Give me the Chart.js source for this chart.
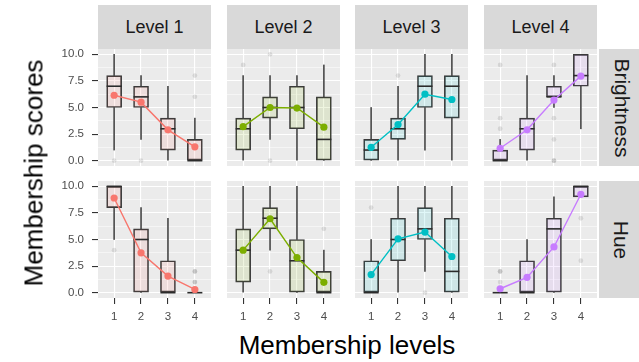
<!DOCTYPE html>
<html>
<head>
<meta charset="utf-8">
<script src="https://cdn.jsdelivr.net/npm/chart.js@4"></script>
<style>
  html, body { margin: 0; padding: 0; background: #ffffff; }
  #fig { position: relative; width: 639px; height: 362px; overflow: hidden;
         font-family: "Liberation Sans", Arial, sans-serif; }
  #fig canvas { position: absolute; }
  .strip { position: absolute; background: #d9d9d9; color: #1a1a1a; font-size: 18px;
           display: flex; align-items: center; justify-content: center; }
  .strip span { white-space: nowrap; }
  .strip.side { font-size: 21px; }
  .strip.side span { transform: rotate(90deg); }
  .title { position: absolute; color: #000; font-size: 26px; white-space: nowrap; }
</style>
</head>
<body>
<div id="fig"></div>
<script>
// Facets and axes
const levelNames = ['Level 1', 'Level 2', 'Level 3', 'Level 4'];
const attributeNames = ['Brightness', 'Hue'];
const membershipLevels = [1, 2, 3, 4];
const yTickValues = [0, 2.5, 5, 7.5, 10];
const yMinorValues = [1.25, 3.75, 6.25, 8.75];

// Box statistics, indexed [level][membership level]
const brightnessMin    = [[1, 2, 0, 0], [0, 2, 0, 0], [0, 0, 1, 0], [0, 0, 5, 3]];
const brightnessQ1     = [[5, 5, 1, 0], [1, 4, 3, 0], [0, 2, 5, 4], [0, 1, 6, 7]];
const brightnessMedian = [[7, 6, 3, 0], [3, 5, 5, 2], [1, 3, 7, 7], [0, 3, 6, 8]];
const brightnessQ3     = [[8, 7, 4, 2], [4, 6, 7, 6], [2, 4, 8, 8], [1, 4, 7, 10]];
const brightnessMax    = [[10, 8, 7, 4], [8, 8, 8, 9], [5, 7, 10, 10], [2, 8, 8, 10]];
const brightnessMean   = [[6.15, 5.5, 2.9, 1.3], [3.2, 5.0, 4.95, 3.15], [1.26, 3.4, 6.25, 5.75], [1.17, 2.9, 5.7, 7.95]];
const brightnessOutliers = [[[0], [0], [], [6, 8]], [[9], [0, 10], [], []], [[], [8], [], []], [[3, 4, 9], [], [0, 0, 2, 4, 9], []]];

const hueMin    = [[5, 0, 0, 0], [0, 4, 0, 0], [0, 0, 2, 0], [0, 0, 0, 9]];
const hueQ1     = [[8, 0, 0, 0], [1, 6, 0, 0], [0, 3, 5, 0], [0, 0, 0, 9]];
const hueMedian = [[10, 5, 0, 0], [4, 7, 3, 0], [0, 5, 6, 2], [0, 0, 6, 10]];
const hueQ3     = [[10, 6, 3, 0], [6, 8, 5, 2], [3, 7, 8, 7], [0, 3, 7, 10]];
const hueMax    = [[10, 8, 7, 0], [10, 10, 10, 4], [5, 10, 10, 10], [0, 5, 9, 10]];
const hueMean   = [[8.9, 3.75, 1.56, 0.3], [4.0, 6.95, 3.3, 0.97], [1.7, 5.06, 5.7, 3.4], [0.37, 1.44, 4.3, 9.25]];
const hueOutliers = [[[4], [], [], [1, 1, 2, 2]], [[], [2], [], [6]], [[8], [], [0], []], [[1, 2, 2], [], [], [3, 7]]];

// Styling
const levelColours = ['#F8766D', '#7CAE00', '#00BFC4', '#C77CFF'];
const PANEL_X = [98, 227, 355, 484], PANEL_W = 113;
const PANEL_Y = [49, 181], PANEL_H = 117;
const Y_AXIS_W = 50, X_AXIS_H = 30;
const FONT = '"Liberation Sans", Arial, sans-serif';

const stats = [
  { min: brightnessMin, q1: brightnessQ1, med: brightnessMedian, q3: brightnessQ3, max: brightnessMax, mean: brightnessMean, out: brightnessOutliers },
  { min: hueMin, q1: hueQ1, med: hueMedian, q3: hueQ3, max: hueMax, mean: hueMean, out: hueOutliers }
];

function tint(hex, a) {
  const n = parseInt(hex.slice(1), 16);
  return `rgba(${n >> 16},${(n >> 8) & 255},${n & 255},${a})`;
}

const panelBackground = {
  id: 'panelBackground',
  beforeDraw(chart) {
    const { ctx, chartArea: a } = chart;
    ctx.save();
    ctx.fillStyle = '#ebebeb';
    ctx.fillRect(a.left, a.top, a.right - a.left, a.bottom - a.top);
    ctx.restore();
  }
};

const fig = document.getElementById('fig');

function addText(cls, text, x, y, w, h) {
  const d = document.createElement('div');
  d.className = cls;
  d.style.left = x + 'px'; d.style.top = y + 'px';
  d.style.width = w + 'px'; d.style.height = h + 'px';
  const s = document.createElement('span');
  s.textContent = text;
  d.appendChild(s);
  fig.appendChild(d);
}

function addTitle(text, cx, cy, rot) {
  const d = document.createElement('div');
  d.className = 'title';
  d.textContent = text;
  d.style.left = cx + 'px'; d.style.top = cy + 'px';
  d.style.transform = `translate(-50%, -50%) rotate(${rot}deg)`;
  fig.appendChild(d);
}

// Tick labels stay inside the expanded range, so the scales need no extra margin.
function noScalePadding(sc) {
  sc.paddingTop = 0; sc.paddingBottom = 0; sc.paddingLeft = 0; sc.paddingRight = 0;
}

function buildPanel(row, col) {
  const s = stats[row];
  const colour = levelColours[col];
  const showY = col === 0, showX = row === 1;
  const yw = showY ? Y_AXIS_W : 0, xh = showX ? X_AXIS_H : 0;

  const canvas = document.createElement('canvas');
  canvas.width = PANEL_W + yw;
  canvas.height = PANEL_H + xh;
  canvas.style.left = (PANEL_X[col] - yw) + 'px';
  canvas.style.top = PANEL_Y[row] + 'px';
  fig.appendChild(canvas);

  const pts = (arr) => membershipLevels.map((x, i) => ({ x, y: arr[col][i] }));
  const range = (lo, hi) => membershipLevels.map((x, i) => ({ x, y: [lo[col][i], hi[col][i]] }));
  const outliers = [];
  membershipLevels.forEach((x, i) => s.out[col][i].forEach(v => outliers.push({ x, y: v })));

  const whisker = { type: 'bar', grouped: false, barThickness: 1.1, backgroundColor: '#555555',
                    borderWidth: 0, order: 6 };

  new Chart(canvas, {
    type: 'bar',
    data: {
      datasets: [
        { ...whisker, data: range(s.min, s.q1) },
        { ...whisker, data: range(s.q3, s.max) },
        { type: 'bar', grouped: false, barThickness: 15, data: range(s.q1, s.q3),
          backgroundColor: tint(colour, 0.12), borderColor: '#3a3a3a', borderWidth: 1,
          borderSkipped: false, order: 5 },
        { type: 'scatter', data: outliers, pointRadius: 2.4, pointBorderWidth: 0,
          backgroundColor: 'rgba(0,0,0,0.1)', order: 4 },
        { type: 'scatter', data: pts(s.med), pointStyle: 'line', pointRadius: 7.5,
          borderColor: '#2b2b2b', pointBorderWidth: 1.6, order: 3 },
        { type: 'line', data: pts(s.mean), borderColor: colour, backgroundColor: colour,
          borderWidth: 1.4, pointRadius: 3.6, pointBorderWidth: 0, order: 1 }
      ]
    },
    options: {
      responsive: false,
      animation: false,
      events: [],
      layout: { padding: 0, autoPadding: false },
      plugins: { legend: { display: false }, tooltip: { enabled: false } },
      scales: {
        x: {
          type: 'linear', min: 0.4, max: 4.6, offset: false,
          afterBuildTicks: sc => { sc.ticks = membershipLevels.map(v => ({ value: v })); },
          afterFit: sc => { sc.height = xh; noScalePadding(sc); },
          border: { display: false },
          grid: { offset: false, color: '#ffffff', lineWidth: 1.1, drawTicks: showX,
                  tickLength: 6, tickColor: '#333333', tickWidth: 1.1 },
          ticks: { display: showX, autoSkip: false, maxRotation: 0, padding: 6,
                   color: '#4d4d4d', font: { family: FONT, size: 11.5 },
                   callback: v => String(v) }
        },
        y: {
          type: 'linear', min: -0.5, max: 10.5, offset: false,
          afterBuildTicks: sc => {
            sc.ticks = yTickValues.concat(yMinorValues).sort((a, b) => a - b).map(v => ({ value: v }));
          },
          afterFit: sc => { sc.width = yw; noScalePadding(sc); },
          border: { display: false },
          grid: {
            offset: false,
            color: '#ffffff',
            lineWidth: c => (c.tick && yTickValues.includes(c.tick.value)) ? 1.1 : 0.5,
            drawTicks: showY, tickLength: 6, tickWidth: 1.1,
            tickColor: c => (c.tick && yTickValues.includes(c.tick.value)) ? '#333333' : 'rgba(0,0,0,0)'
          },
          ticks: { display: showY, autoSkip: false, padding: 8,
                   color: '#4d4d4d', font: { family: FONT, size: 11.5 },
                   callback: v => yTickValues.includes(v) ? v.toFixed(1) : '' }
        }
      }
    },
    plugins: [panelBackground]
  });
}

for (let r = 0; r < 2; r++) for (let c = 0; c < 4; c++) buildPanel(r, c);

levelNames.forEach((name, c) => addText('strip', name, PANEL_X[c], 5, PANEL_W, 44));
attributeNames.forEach((name, r) => addText('strip side', name, 599, PANEL_Y[r], 45, PANEL_H));

addTitle('Membership scores', 34, 173, -90);
addTitle('Membership levels', 347, 345, 0);
</script>
</body>
</html>
